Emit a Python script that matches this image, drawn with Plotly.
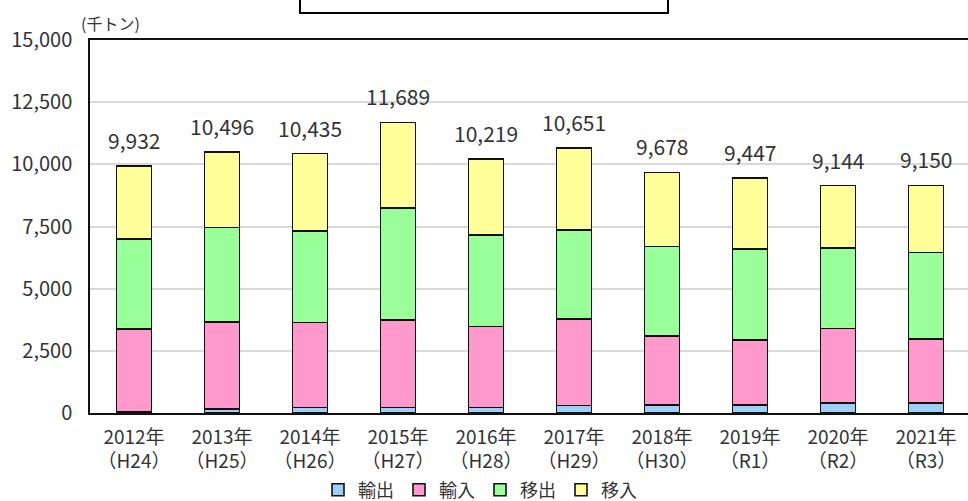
import plotly.graph_objects as go

categories = ["2012年<br>（H24）", "2013年<br>（H25）", "2014年<br>（H26）", "2015年<br>（H27）",
              "2016年<br>（H28）", "2017年<br>（H29）", "2018年<br>（H30）", "2019年<br>（R1）",
              "2020年<br>（R2）", "2021年<br>（R3）"]
export_vals = [60, 150, 220, 220, 220, 300, 320, 320, 400, 400]      # 輸出
import_vals = [3317, 3521, 3425, 3519, 3265, 3479, 2788, 2615, 3005, 2575]  # 輸入
outbound_vals = [3618, 3794, 3684, 4502, 3683, 3578, 3593, 3658, 3228, 3485]  # 移出
inbound_vals = [2937, 3031, 3106, 3448, 3051, 3294, 2977, 2854, 2511, 2690]  # 移入
totals = [9932, 10496, 10435, 11689, 10219, 10651, 9678, 9447, 9144, 9150]

series_names = ["輸出", "輸入", "移出", "移入"]
series_vals = [export_vals, import_vals, outbound_vals, inbound_vals]
colors = ["#9DCFF7", "#FF99CC", "#99FF99", "#FFFF99"]

FONT = "Noto Sans CJK JP"
TXT = "#333333"

fig = go.Figure()
for name, vals, col in zip(series_names, series_vals, colors):
    fig.add_trace(go.Bar(
        x=categories, y=vals, name=name,
        marker=dict(color=col, line=dict(color="#111111", width=1.6)),
    ))

for c, t in zip(categories, totals):
    fig.add_annotation(x=c, y=t, text=f"{t:,}", showarrow=False,
                       yanchor="bottom", yshift=9,
                       font=dict(family=FONT, size=21, color=TXT))

fig.add_annotation(x=(110 - 90) / 878, y=(413 - 23) / 373, xref="paper", yref="paper",
                   text="(千トン)", showarrow=False, xanchor="center", yanchor="middle",
                   font=dict(family=FONT, size=16, color=TXT))

fig.add_shape(type="rect", xref="paper", yref="paper",
              x0=(300 - 90) / 878, x1=(668 - 90) / 878,
              y0=(413 - 13) / 373, y1=(413 + 10) / 373,
              line=dict(color="#000000", width=2), fillcolor="white")

fig.update_layout(
    width=968, height=501,
    margin=dict(l=90, r=0, t=40, b=88, autoexpand=False),
    barmode="stack", bargap=0.6,
    plot_bgcolor="white", paper_bgcolor="white",
    font=dict(family=FONT, size=19, color=TXT),
    showlegend=True,
    legend=dict(orientation="h", x=(480 - 90) / 878, xanchor="center",
                y=(413 - 490) / 373, yanchor="middle",
                traceorder="normal", font=dict(family=FONT, size=18, color=TXT),
                itemwidth=30),
)
fig.update_xaxes(
    range=[-0.5, -0.5 + 878 / 88], showline=True, linecolor="#111111", linewidth=1.5,
    mirror=True, showgrid=False, ticklabelstandoff=6,
    tickfont=dict(family=FONT, size=19, color=TXT),
)
fig.update_yaxes(
    range=[0, 15000], dtick=2500, tickformat=",", showline=True, linecolor="#111111",
    linewidth=1.5, showgrid=True, gridcolor="#D9D9D9", gridwidth=1.5,
    ticklabelstandoff=12, tickfont=dict(family=FONT, size=20, color=TXT), zeroline=False,
)

fig.write_html("out.html")
